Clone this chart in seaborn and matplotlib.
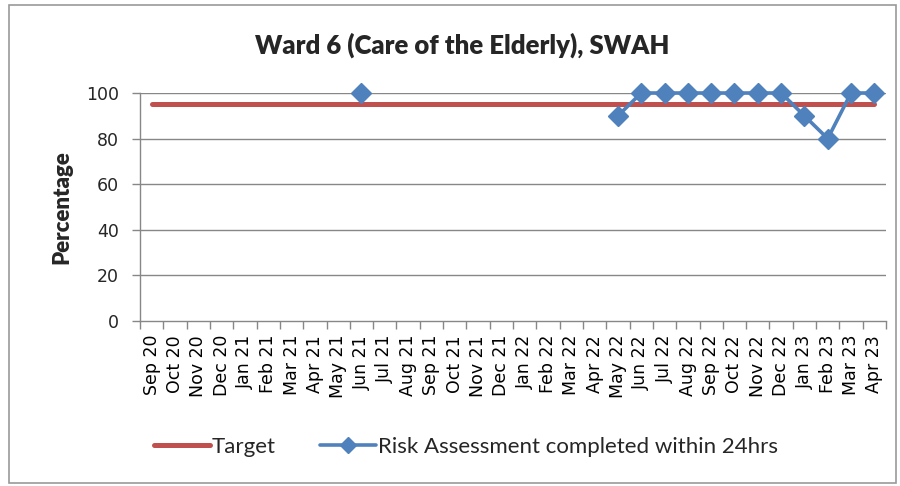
import numpy as np
import pandas as pd
import matplotlib
matplotlib.use("Agg")
import matplotlib.pyplot as plt
import seaborn as sns
from matplotlib.patches import Rectangle
from matplotlib.lines import Line2D

months = ["Sep 20", "Oct 20", "Nov 20", "Dec 20", "Jan 21", "Feb 21", "Mar 21", "Apr 21",
          "May 21", "Jun 21", "Jul 21", "Aug 21", "Sep 21", "Oct 21", "Nov 21", "Dec 21",
          "Jan 22", "Feb 22", "Mar 22", "Apr 22", "May 22", "Jun 22", "Jul 22", "Aug 22",
          "Sep 22", "Oct 22", "Nov 22", "Dec 22", "Jan 23", "Feb 23", "Mar 23", "Apr 23"]
target = [95] * len(months)
nan = np.nan
risk = [nan, nan, nan, nan, nan, nan, nan, nan,
        nan, 100, nan, nan, nan, nan, nan, nan,
        nan, nan, nan, nan, 90, 100, 100, 100,
        100, 100, 100, 100, 90, 80, 100, 100]
yticks = [0, 20, 40, 60, 80, 100]

sns.set_theme(style="white")
plt.rcParams['font.family'] = ['DejaVu Sans']

fig = plt.figure(figsize=(9, 4.86), dpi=100)
ax = fig.add_axes([140/900, 1-321/486, (886-140)/900, (321-93)/486])

pos = np.arange(len(months))
df = pd.DataFrame({"pos": pos, "month": months, "Target": target, "Risk": risk})

red = "#C0504D"
blue = "#4F81BD"
grid = "#878787"

sns.lineplot(data=df, x="pos", y="Target", ax=ax, color=red, linewidth=3.6,
             solid_capstyle="round", zorder=3, legend=False)
ax.plot(df["pos"], df["Risk"], color=blue, linewidth=2.6, marker="D",
        markersize=10, zorder=4, clip_on=False)

ax.set_xlim(-0.5, len(months) - 0.5)
ax.set_ylim(0, 100)
ax.set_yticks(yticks)
ax.set_yticklabels([str(v) for v in yticks], fontsize=12.5)
ax.set_xticks(pos)
ax.set_xticklabels(months, rotation=90, fontsize=12.5)
ax.set_xticks(np.arange(-0.5, len(months)), minor=True)
ax.tick_params(axis="x", which="major", length=0, pad=10, colors="black")
ax.tick_params(axis="x", which="minor", length=6, width=1, color=grid, direction="out", bottom=True)
ax.tick_params(axis="y", length=6, width=1, color=grid, direction="out", left=True, pad=9)
ax.grid(False)
for y in yticks[1:]:
    ax.axhline(y, color=grid, linewidth=1, zorder=1)
for s in ["top", "right"]:
    ax.spines[s].set_visible(False)
for s in ["left", "bottom"]:
    ax.spines[s].set_color(grid)
    ax.spines[s].set_linewidth(1)
ax.set_xlabel("")
ax.set_ylabel("Percentage", fontsize=16, fontweight="heavy", family="Lato", labelpad=10)

fig.text(462/900, 1-45/486, "Ward 6 (Care of the Elderly), SWAH", ha="center", va="center",
         fontsize=18.5, fontweight="heavy", family="Lato")

handles = [Line2D([], [], color=red, linewidth=3.6),
           Line2D([], [], color=blue, linewidth=2.6, marker="D", markersize=8)]
leg = fig.legend(handles, ["Target", "Risk Assessment completed within 24hrs"],
                 loc="center", bbox_to_anchor=(466/900, 1-447/486), ncol=2, frameon=False,
                 prop={"family": "Lato", "size": 16}, handlelength=2.5, handletextpad=0.1,
                 columnspacing=2.0)

fig.patches.append(Rectangle((9/900, 1-483/486), (896-9)/900, (483-5)/486,
                             transform=fig.transFigure, fill=False, edgecolor="#999999",
                             linewidth=1.2))

fig.savefig("out.png", dpi=100)
